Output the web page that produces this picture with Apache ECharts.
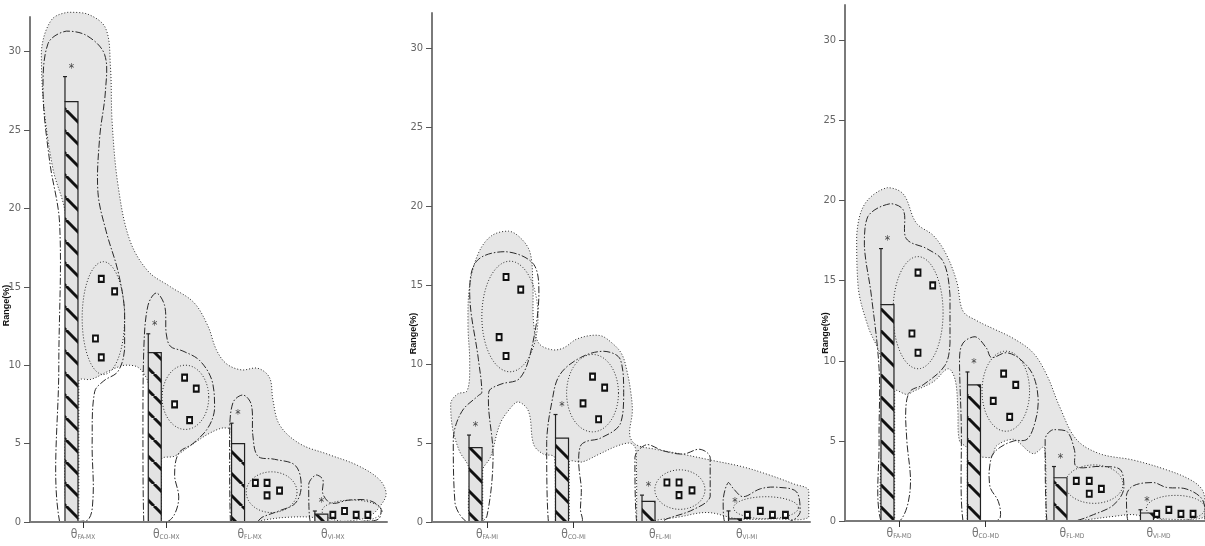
<!DOCTYPE html>
<html><head><meta charset="utf-8">
<script src="https://cdn.jsdelivr.net/npm/echarts@6/dist/echarts.min.js"></script>
<style>html,body{margin:0;padding:0;background:#fff}#c{width:1205px;height:546px}</style>
</head><body><div id="c"></div>
<script>
// ---------- data ----------
const yTicks = [0, 5, 10, 15, 20, 25, 30];
const catPos = [1, 2, 3, 4];
const labelsMX = ['FA-MX', 'CO-MX', 'FL-MX', 'VI-MX'];
const labelsMI = ['FA-MI', 'CO-MI', 'FL-MI', 'VI-MI'];
const labelsMD = ['FA-MD', 'CO-MD', 'FL-MD', 'VI-MD'];

const barsMX = [26.8, 10.8, 5.0, 0.5];
const errMX  = [28.4, 12.0, 6.3, 0.7];
const barsMI = [4.7, 5.3, 1.3, 0.2];
const errMI  = [5.5, 6.8, 1.7, 0.7];
const barsMD = [13.5, 8.5, 2.7, 0.5];
const errMD  = [17.0, 9.3, 3.4, 0.7];

const ptsMX = [[1.22,15.5],[1.38,14.7],[1.15,11.7],[1.22,10.5],[2.22,9.2],[2.36,8.5],[2.1,7.5],[2.28,6.5],[3.07,2.5],[3.21,2.5],[3.21,1.7],[3.36,2.0],[4.0,0.45],[4.14,0.7],[4.28,0.45],[4.42,0.45]];
const ptsMI = [[1.22,15.5],[1.39,14.7],[1.14,11.7],[1.22,10.5],[2.22,9.2],[2.36,8.5],[2.11,7.5],[2.29,6.5],[3.08,2.5],[3.22,2.5],[3.22,1.7],[3.37,2.0],[4.01,0.45],[4.16,0.7],[4.3,0.45],[4.45,0.45]];
const ptsMD = [[1.22,15.5],[1.39,14.7],[1.15,11.7],[1.22,10.5],[2.21,9.2],[2.35,8.5],[2.09,7.5],[2.28,6.5],[3.05,2.5],[3.2,2.5],[3.2,1.7],[3.34,2.0],[3.98,0.45],[4.12,0.7],[4.26,0.45],[4.4,0.45]];

// outer density envelopes (x in category units, y in %)
const envMX = [[0.95,0],[0.8,0.3],[0.8,10],[0.79,19.5],[0.64,22.5],[0.53,26.5],[0.5,30],[0.62,32],[0.82,32.5],[1.05,32.4],[1.27,31.5],[1.33,29],[1.35,25.5],[1.42,21.5],[1.56,18],[1.78,16],[2.05,15],[2.33,14],[2.5,12.5],[2.6,11],[2.72,10.1],[2.9,9.7],[3.1,9.8],[3.24,9.2],[3.28,7.8],[3.36,6.2],[3.6,5.0],[3.95,4.3],[4.3,3.6],[4.56,2.7],[4.64,1.8],[4.58,1.1],[4.45,0.4],[4.25,0.1],[3.95,0.05],[3.75,0.3],[3.45,0.3],[3.2,0.15],[3.05,0],[2.0,0]];
const envMI = [[0.95,0],[0.8,0.3],[0.79,3.4],[0.68,4.5],[0.6,6.0],[0.58,7.5],[0.66,8.1],[0.77,8.3],[0.8,10],[0.78,12.5],[0.8,15],[0.9,17],[1.05,18.1],[1.25,18.4],[1.4,17.9],[1.5,17],[1.53,15],[1.54,12.5],[1.6,11.3],[1.75,10.9],[1.88,11.0],[2.05,11.6],[2.3,11.8],[2.45,11.3],[2.56,10.6],[2.62,9.5],[2.66,8.3],[2.68,7],[2.65,5.5],[2.72,4.9],[2.95,4.6],[3.25,4.3],[3.6,3.9],[3.95,3.5],[4.25,3.0],[4.55,2.4],[4.72,2.0],[4.72,0.3],[4.3,0.2],[3.9,0.2],[3.55,0.6],[3.2,0.3],[3.0,0.15],[2.85,0],[2.0,0]];
const envMD = [[0.95,0],[0.8,0.3],[0.8,5],[0.79,10.1],[0.645,12.1],[0.53,14.5],[0.511,17.8],[0.607,19.8],[0.865,20.8],[1.05,20.4],[1.2,18.6],[1.4,17.8],[1.55,16.6],[1.67,14.9],[1.74,13.1],[1.9,12.5],[2.09,12.0],[2.32,11.4],[2.55,10.5],[2.71,9.1],[2.86,7.1],[3.05,5.1],[3.32,4.2],[3.71,3.8],[4.09,3.2],[4.36,2.6],[4.5,2.0],[4.54,1.2],[4.54,0.3],[4.3,0.1],[3.9,0.2],[3.7,0.4],[3.5,0.3],[3.2,0.1],[3.05,0],[2.0,0]];

// low-density gaps (white)
const holesMX = [
  [[0.95,0],[0.95,4.5],[0.95,9.0],[1.1,9.1],[1.3,9.6],[1.5,10.0],[1.65,9.9],[1.76,9.2],[1.79,8.5],[1.79,4],[1.79,0],[1.37,0]],
  [[1.94,0],[1.94,2],[1.94,4.0],[2.1,4.2],[2.3,4.9],[2.5,5.6],[2.68,6.0],[2.78,5.9],[2.78,3],[2.78,0],[2.36,0]]
];
const holesMI = [
  [[0.95,0],[0.95,1.6],[0.95,3.3],[1.04,4.1],[1.15,6.2],[1.27,7.2],[1.36,7.6],[1.48,7.0],[1.54,4.9],[1.65,4.3],[1.78,4.1],[1.79,2],[1.79,0],[1.37,0]],
  [[1.95,0],[1.95,1.9],[1.95,3.8],[2.1,3.8],[2.3,4.3],[2.5,4.8],[2.65,5.0],[2.72,4.6],[2.73,2.3],[2.73,0],[2.34,0]]
];
const holesMD = [
  [[0.95,0],[0.95,4],[0.95,8.1],[1.09,7.9],[1.17,8.1],[1.4,8.7],[1.57,9.5],[1.65,8.8],[1.68,7],[1.7,5],[1.79,4.5],[1.79,2],[1.79,0],[1.37,0]],
  [[1.93,0],[1.93,2],[1.93,3.9],[2.07,4.0],[2.13,4.7],[2.32,5.1],[2.55,4.2],[2.68,4.6],[2.7,2.3],[2.7,0],[2.31,0]]
];

// dash-dot contours
const ddMX = [
  [[0.72,0],[0.71,10],[0.72,19],[0.6,23],[0.52,27.5],[0.58,30.5],[0.8,31.3],[1.05,31.0],[1.26,29.8],[1.27,27.5],[1.2,24.5],[1.18,21],[1.28,18.5],[1.42,16],[1.5,13.5],[1.5,11],[1.42,9.6],[1.25,9.0],[1.14,8.3],[1.11,5],[1.12,1.5],[1.05,0.1]],
  [[1.73,0],[1.72,6],[1.73,11],[1.78,13.8],[1.88,14.6],[1.98,13.8],[2.0,12],[2.05,11.2],[2.2,10.9],[2.4,10.3],[2.55,9],[2.58,7.2],[2.5,6.0],[2.32,5.0],[2.15,4.4],[2.1,3],[2.15,1.6],[2.1,0.5],[2.0,0]],
  [[2.77,0],[2.76,5.5],[2.8,7.6],[2.92,8.1],[3.02,7.5],[3.04,5.5],[3.1,4.2],[3.3,4.0],[3.55,3.6],[3.62,2.3],[3.55,1.2],[3.35,0.7],[3.15,0.3],[3.08,0]],
  [[3.73,0],[3.71,2.4],[3.8,3.0],[3.88,2.7],[3.88,1.8],[3.98,1.2],[4.2,1.4],[4.45,1.35],[4.58,0.8],[4.55,0.2],[4.4,0.05]]
];
const ddMI = [
  [[0.765,0],[0.63,1.2],[0.61,5.3],[0.71,7.0],[0.9,8.0],[0.94,8.2],[0.9,10.3],[0.8,14.4],[0.88,16.5],[1.21,17.1],[1.54,16.3],[1.6,14.4],[1.52,11.1],[1.38,9.1],[1.15,8.7],[1.02,8.2],[1.07,4.1],[1.0,0.4],[0.92,0]],
  [[1.71,0],[1.69,5.1],[1.75,7.6],[1.84,9.3],[2.08,10.4],[2.35,10.8],[2.54,10.3],[2.58,8.2],[2.54,6.2],[2.31,5.3],[2.15,5.1],[2.08,4.8],[2.06,3.7],[2.09,2.1],[2.08,0.8],[2.09,0]],
  [[2.73,0],[2.71,4.1],[2.85,4.9],[3.04,4.5],[3.27,4.3],[3.46,4.6],[3.58,4.1],[3.58,1.6],[3.39,0.8],[3.08,0.2],[3.0,0]],
  [[3.75,0],[3.73,1.4],[3.79,2.5],[3.85,2.1],[3.96,1.6],[4.16,2.1],[4.35,2.2],[4.58,1.9],[4.62,0.6],[4.47,0]]
];
const ddMD = [
  [[0.79,0],[0.77,5],[0.77,9.5],[0.68,14.1],[0.6,17.2],[0.64,19.0],[0.9,19.8],[1.05,19.4],[1.07,17.8],[1.13,17.4],[1.32,17.0],[1.51,16.2],[1.59,14.1],[1.59,11.1],[1.53,9.7],[1.28,8.5],[1.13,8.1],[1.08,7.1],[1.09,5.1],[1.13,2.0],[1.01,0]],
  [[1.74,0],[1.72,6.1],[1.7,10.1],[1.74,11.1],[1.88,11.5],[2.01,10.8],[2.07,10.2],[2.24,10.5],[2.4,10.1],[2.55,9.1],[2.61,7.5],[2.57,6.1],[2.48,5.1],[2.33,5.0],[2.17,4.6],[2.07,4.0],[2.05,2.2],[2.15,1.2],[2.17,0.2],[2.1,0]],
  [[2.71,0],[2.69,5.1],[2.78,5.7],[2.94,5.6],[3.03,4.4],[3.05,3.4],[3.32,3.4],[3.56,3.2],[3.6,2.0],[3.48,1.0],[3.25,0.4],[3.02,0]],
  [[3.65,0],[3.63,1.6],[3.71,2.2],[3.94,2.4],[4.09,2.1],[4.32,2.0],[4.5,1.4],[4.54,0.5],[4.52,0]]
];

// inner dotted ellipses: [xFrom, xTo, yFrom, yTo]
const ellMX = [[0.99,1.5,9.4,16.6],[1.95,2.51,5.9,10.0],[2.96,3.57,0.6,3.2],[3.87,4.59,0.0,1.4]];
const ellMI = [[0.94,1.59,9.5,16.5],[1.92,2.52,5.7,10.6],[2.94,3.52,0.8,3.3],[3.85,4.6,0.2,1.6]];
const ellMD = [[0.93,1.51,9.5,16.5],[1.96,2.51,5.6,10.6],[2.92,3.59,1.1,3.5],[3.86,4.54,0.0,1.6]];

// ---------- rendering ----------
const FONT = "'Liberation Sans Narrow','DejaVu Sans Condensed','Liberation Sans',Arial,sans-serif";
const LINE = '#2a2a2a';
const NOBOX = [[1e9, 1e9], [-1e9, -1e9]];

function makeHatch() {
  const s = 22, c = document.createElement('canvas');
  c.width = s; c.height = s;
  const g = c.getContext('2d');
  g.strokeStyle = '#111'; g.lineWidth = 3;
  for (let k = -1; k <= 1; k++) { g.beginPath(); g.moveTo(k * s, 0); g.lineTo(k * s + s, s); g.stroke(); }
  return c;
}
const hatch = makeHatch();

function polySeries(idx, list, style, z, smooth) {
  return {
    type: 'custom', xAxisIndex: idx, yAxisIndex: idx, z: z, silent: true,
    encode: { x: 1, y: 2 },
    data: list.map((_, i) => [i, 1, 1]),
    renderItem: (params, api) => {
      const pts = list[api.value(0)].map(p => api.coord(p));
      return { type: 'polygon', shape: { points: pts, smooth: smooth, smoothConstraint: NOBOX }, style: style };
    }
  };
}
function ellSeries(idx, list, z) {
  return {
    type: 'custom', xAxisIndex: idx, yAxisIndex: idx, z: z, silent: true,
    encode: { x: 1, y: 2 },
    data: list.map((_, i) => [i, 1, 1]),
    renderItem: (params, api) => {
      const r = list[api.value(0)];
      const a = api.coord([r[0], r[2]]), b = api.coord([r[1], r[3]]);
      const cx = (a[0] + b[0]) / 2, cy = (a[1] + b[1]) / 2;
      const rx = Math.abs(b[0] - a[0]) / 2, ry = Math.abs(b[1] - a[1]) / 2;
      const pts = [];
      for (let i = 0; i < 60; i++) { const t = i / 60 * Math.PI * 2; pts.push([cx + rx * Math.cos(t), cy + ry * Math.sin(t)]); }
      return { type: 'polygon', shape: { points: pts }, style: { fill: 'none', stroke: LINE, lineWidth: 1, lineDash: [1, 2] } };
    }
  };
}
function barSeries(idx, bars, errs) {
  return {
    type: 'custom', xAxisIndex: idx, yAxisIndex: idx, z: 6, silent: true,
    data: catPos.map((c, i) => [c, bars[i], errs[i]]),
    renderItem: (params, api) => {
      const c = api.value(0), v = api.value(1), e = api.value(2);
      const b = api.coord([c, 0]), t = api.coord([c, v]), et = api.coord([c, e]);
      const w = 13, cx = b[0] - 11.5, x0 = cx - w / 2, h = b[1] - t[1];
      return { type: 'group', children: [
        { type: 'rect', shape: { x: x0, y: t[1], width: w, height: h }, style: { fill: '#e3e3e3' } },
        { type: 'rect', shape: { x: x0, y: t[1], width: w, height: h }, style: { fill: { image: hatch, repeat: 'repeat' } } },
        { type: 'rect', shape: { x: x0, y: t[1], width: w, height: h }, style: { fill: 'none', stroke: '#222', lineWidth: 1.2 } },
        { type: 'line', shape: { x1: x0, y1: t[1], x2: x0, y2: et[1] }, style: { stroke: '#222', lineWidth: 1.2 } },
        { type: 'line', shape: { x1: x0 - 2, y1: et[1], x2: x0 + 2, y2: et[1] }, style: { stroke: '#222', lineWidth: 1.2 } },
        { type: 'text', style: { text: '*', x: cx, y: et[1] - 8, fill: '#444', font: '12px ' + FONT, align: 'center', verticalAlign: 'middle' } }
      ] };
    }
  };
}

const panels = [
  { grid: { left: 30, top: 17, width: 357, height: 505 }, xMin: 0.364, xMax: 4.65, labels: labelsMX, bars: barsMX, errs: errMX, pts: ptsMX, env: envMX, holes: holesMX, dd: ddMX, ell: ellMX, namePad: 72, nameGap: 19 },
  { grid: { left: 432, top: 13, width: 378, height: 509 }, xMin: 0.364, xMax: 4.734, labels: labelsMI, bars: barsMI, errs: errMI, pts: ptsMI, env: envMI, holes: holesMI, dd: ddMI, ell: ellMI, namePad: 132, nameGap: 14 },
  { grid: { left: 845, top: 5, width: 360, height: 516 }, xMin: 0.376, xMax: 4.538, labels: labelsMD, bars: barsMD, errs: errMD, pts: ptsMD, env: envMD, holes: holesMD, dd: ddMD, ell: ellMD, namePad: 140, nameGap: 15 }
];

const grids = [], xAxes = [], yAxes = [], series = [];
panels.forEach((p, i) => {
  grids.push(Object.assign({ containLabel: false, outerBoundsMode: 'none' }, p.grid));
  xAxes.push({
    type: 'value', gridIndex: i, min: p.xMin, max: p.xMax, z: 10,
    axisLine: { show: true, onZero: false, lineStyle: { color: '#7a7a7a', width: 2 } },
    axisTick: { show: true, customValues: [1, 2], length: 6, lineStyle: { color: '#333', width: 1 } },
    splitLine: { show: false },
    axisLabel: {
      customValues: catPos, margin: 5,
      formatter: v => '{a|θ}{b|' + p.labels[Math.round(v) - 1] + '}',
      rich: {
        a: { fontSize: 12, color: '#777', fontFamily: FONT, verticalAlign: 'bottom', lineHeight: 14 },
        b: { fontSize: 6.5, color: '#777', fontFamily: FONT, verticalAlign: 'bottom', lineHeight: 8, padding: [8, 0, 0, 0] }
      }
    }
  });
  yAxes.push({
    type: 'value', gridIndex: i, min: 0, max: 32.2, z: 10,
    name: 'Range(%)', nameLocation: 'middle', nameGap: p.nameGap, nameMoveOverlap: false,
    nameTextStyle: { fontSize: 9, fontWeight: 'bold', color: '#111', fontFamily: "'Liberation Sans',Arial,sans-serif", padding: [0, p.namePad, 0, 0] },
    axisLine: { show: true, onZero: false, lineStyle: { color: '#7a7a7a', width: 2 } },
    axisTick: { show: true, customValues: yTicks, length: 6, lineStyle: { color: '#555', width: 1 } },
    splitLine: { show: false },
    axisLabel: { customValues: yTicks, margin: 9, fontSize: 11, color: '#666', fontFamily: FONT }
  });
  series.push(polySeries(i, [p.env], { fill: '#e6e6e6', stroke: LINE, lineWidth: 1, lineDash: [1, 2] }, 1, 0.35));
  series.push(polySeries(i, p.holes, { fill: '#ffffff', stroke: LINE, lineWidth: 1, lineDash: [1, 2] }, 2, 0.35));
  series.push(ellSeries(i, p.ell, 3));
  series.push(polySeries(i, p.dd, { fill: 'none', stroke: LINE, lineWidth: 1, lineDash: [7, 2, 1.5, 2] }, 4, 0.35));
  series.push(barSeries(i, p.bars, p.errs));
  series.push({
    type: 'scatter', xAxisIndex: i, yAxisIndex: i, z: 7, silent: true,
    symbol: 'rect', symbolSize: [5, 6],
    itemStyle: { color: '#ffffff', borderColor: '#111', borderWidth: 2, opacity: 1 },
    data: p.pts
  });
});

const chart = echarts.init(document.getElementById('c'), null, { renderer: 'canvas' });
chart.setOption({
  animation: false,
  backgroundColor: '#ffffff',
  textStyle: { fontFamily: FONT },
  grid: grids, xAxis: xAxes, yAxis: yAxes, series: series
});
</script>
</body></html>
